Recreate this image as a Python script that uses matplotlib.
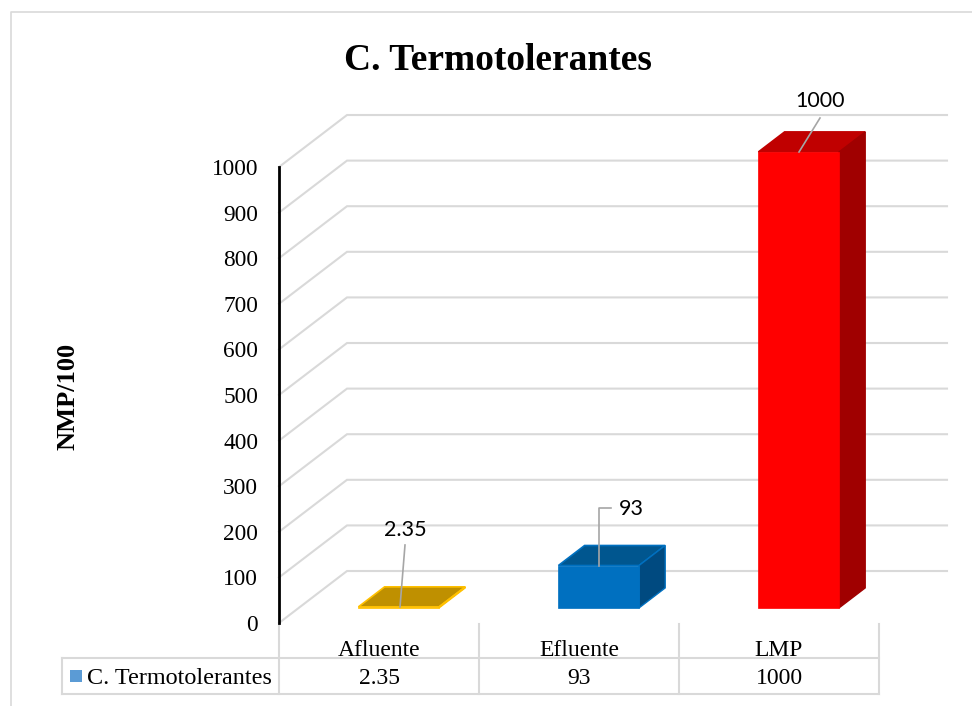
import matplotlib
matplotlib.use("Agg")
import matplotlib.pyplot as plt
from matplotlib.patches import Polygon

categories = ["Afluente", "Efluente", "LMP"]
values = [2.35, 93, 1000]
value_labels = ["2.35", "93", "1000"]
series_name = "C. Termotolerantes"
y_ticks = [0, 100, 200, 300, 400, 500, 600, 700, 800, 900, 1000]

front_colors = ["#ffc000", "#0070c0", "#ff0000"]
top_colors = ["#bf9000", "#00568f", "#c00000"]
side_colors = ["#8f6c00", "#004a80", "#a00000"]
edge_colors = ["#ffc000", "#0070c0", "#ff0000"]

W, H = 972, 706
GRID = "#d9d9d9"
SERIF = "Liberation Serif"

# depth of the fake 3d box, in data units
depth_x = 0.34
depth_y = 114
bar_d0 = 0.29
bar_d1 = 0.675
bar_w = 0.403

fig = plt.figure(figsize=(W / 100, H / 100), dpi=100)

# pixel overlay for the frame and the table
bg = fig.add_axes([0, 0, 1, 1], zorder=0)
bg.set_xlim(0, W)
bg.set_ylim(H, 0)
bg.axis("off")

top = fig.add_axes([0, 0, 1, 1], zorder=5)
top.set_xlim(0, W)
top.set_ylim(H, 0)
top.axis("off")

ax = fig.add_axes([279 / W, 1 - 623 / H, 600 / W, 456 / H], zorder=2)
ax.patch.set_alpha(0)
ax.set_xlim(-0.5, 2.5)
ax.set_ylim(0, 1000)
for s in ["top", "right", "bottom"]:
    ax.spines[s].set_visible(False)
ax.spines["left"].set_linewidth(2)
ax.spines["left"].set_color("black")
ax.set_xticks([])
ax.set_yticks(y_ticks)
ax.tick_params(axis="y", length=0, pad=15)
for t in ax.get_yticklabels():
    t.set_fontfamily(SERIF)
    t.set_fontsize(16.8)

# walls
for v in y_ticks:
    ax.plot([-0.5, -0.5 + depth_x, 2.5 + depth_x], [v, v + depth_y, v + depth_y],
            color=GRID, lw=1.5, clip_on=False, zorder=1, solid_joinstyle="miter")

# bars
xs = [i + bar_d0 * depth_x for i in range(len(values))]
base = bar_d0 * depth_y
ax.bar(xs, values, bar_w, bottom=base, color=front_colors, edgecolor=edge_colors,
       linewidth=0.5, zorder=4, clip_on=False)
dx = (bar_d1 - bar_d0) * depth_x
dy = (bar_d1 - bar_d0) * depth_y
for x, v, tc, sc, ec in zip(xs, values, top_colors, side_colors, edge_colors):
    l, r = x - bar_w / 2, x + bar_w / 2
    y0, y1 = base, base + v
    ax.add_patch(Polygon([(l, y1), (r, y1), (r + dx, y1 + dy), (l + dx, y1 + dy)], closed=True,
                         facecolor=tc, edgecolor=ec if v < 500 else tc, lw=1.2, zorder=3, clip_on=False))
    ax.add_patch(Polygon([(r, y0), (r + dx, y0 + dy), (r + dx, y1 + dy), (r, y1)], closed=True,
                         facecolor=sc, edgecolor=ec if v < 500 else sc, lw=1, zorder=3, clip_on=False))

# leader lines and data labels
leaders = [[(400, 607), (405, 545)], [(599, 566), (599, 508), (611, 508)], [(799, 152), (820, 118)]]
label_pos = [(405, 530), (631, 509), (820, 101)]
for pts, pos, txt in zip(leaders, label_pos, value_labels):
    top.plot([p[0] for p in pts], [p[1] for p in pts], color="#a6a6a6", lw=1.2)
    top.text(pos[0], pos[1], txt, ha="center", va="center", fontsize=15.5, family="Lato", color="black")

# outer frame
bg.plot([11, 11, W], [H, 12, 12], color=GRID, lw=1.2)

# data table
bg.plot([62, 879], [658, 658], color=GRID, lw=1.5)
bg.plot([62, 879], [694, 694], color=GRID, lw=1.5)
bg.plot([62, 62], [658, 694], color=GRID, lw=1.5)
for x in [279, 479, 679, 879]:
    bg.plot([x, x], [624, 694], color=GRID, lw=1.5)
bg.add_patch(plt.Rectangle((70, 670), 12, 12, facecolor="#5b9bd5", edgecolor="none"))
bg.text(87, 678, series_name, ha="left", va="center", fontsize=17.4, family=SERIF)
for i, (c, t) in enumerate(zip(categories, value_labels)):
    bg.text(379 + 200 * i, 650, c, ha="center", va="center", fontsize=17, family=SERIF)
    bg.text(379 + 200 * i, 678, t, ha="center", va="center", fontsize=17, family=SERIF)

fig.text(498 / W, 1 - 60 / H, series_name, ha="center", va="center", fontsize=27,
         fontweight="bold", family=SERIF)
fig.text(68 / W, 1 - 396 / H, "NMP/100", ha="center", va="center", rotation=90, fontsize=19,
         fontweight="bold", family=SERIF)

fig.savefig("out.png", dpi=100)
